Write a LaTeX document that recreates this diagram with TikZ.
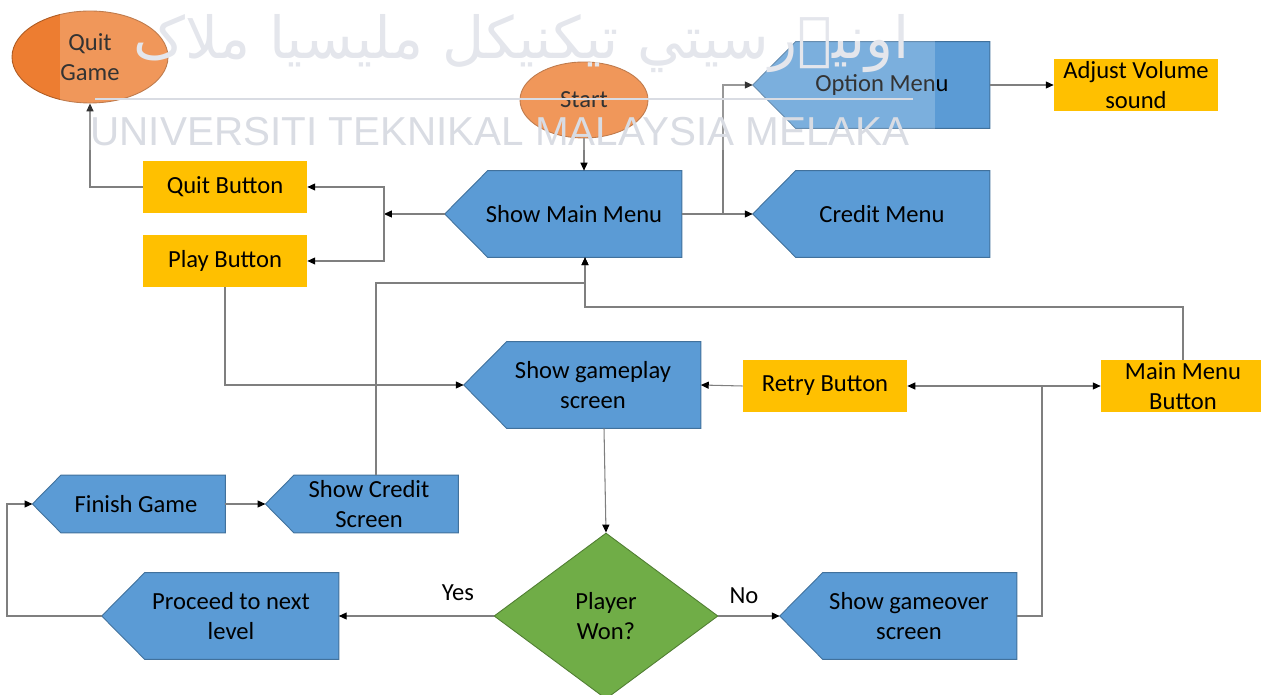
\documentclass[tikz,border=0pt]{standalone}
\usepackage{fontspec}
\setmainfont{Carlito}
\newfontfamily\wmsans{Liberation Sans}
\newfontfamily\jawi[Script=Arabic]{DejaVu Sans}
\TeXXeTstate=1
\usetikzlibrary{shapes.geometric,arrows.meta,calc,backgrounds}

\definecolor{dispblue}{HTML}{5B9BD5}
\definecolor{dispborder}{HTML}{41719C}
\definecolor{btnyellow}{HTML}{FFC000}
\definecolor{termorange}{HTML}{ED7D31}
\definecolor{termborder}{HTML}{AE5A21}
\definecolor{wongreen}{HTML}{70AD47}
\definecolor{wonborder}{HTML}{507E32}
\definecolor{linegray}{HTML}{7F7F7F}
\definecolor{wmgray}{HTML}{D9DCE3}
\definecolor{wmlight}{HTML}{E4E6EC}

\newcommand\lbl{\fontsize{14pt}{16.8pt}\selectfont}

\tikzset{
	disp/.style={inner sep=0pt, align=center, font=\lbl},
	dispbig/.style={disp, minimum width=4.3cm, minimum height=1.72cm},
	dispsmall/.style={disp, minimum width=3.56cm, minimum height=1.14cm},
	dispfill/.style={fill=dispblue, draw=dispborder, line width=0.5pt},
	btn/.style={rectangle, fill=btnyellow, minimum width=3.28cm, minimum height=1.04cm, inner sep=0pt, align=center, font=\lbl},
	term/.style={ellipse, fill=termorange, draw=termborder, line width=0.5pt, inner sep=0pt, align=center, font=\lbl},
	choice/.style={diamond, fill=wongreen, draw=wonborder, line width=0.5pt, inner sep=0pt, minimum width=4.48cm, minimum height=3.32cm, align=center, font=\lbl},
	line/.style={draw=linegray, line width=0.6pt},
	arr/.style={line, -{Triangle[length=4.5pt,width=4pt,color=black]}},
}

% pentagon pointing left, drawn behind a node
\newcommand\dispshape[2]{%
	\filldraw[dispfill] ($(#1.north west)+(#2,0)$) -- (#1.north east) -- (#1.south east)
		-- ($(#1.south west)+(#2,0)$) -- ($(#1.west)-(#2,0)$) coordinate (#1-tip) -- cycle;}

\begin{document}
\begin{tikzpicture}[x=0.02cm,y=-0.02cm]
				\useasboundingbox (0,0) rectangle (1261,695);
				
				\node[term, minimum width=3.12cm, minimum height=1.84cm] (quitgame) at (90,57) {Quit\\Game};
				\node[term, minimum width=2.56cm, minimum height=1.52cm] (start) at (584,100) {Start};
				
				\node[dispbig] (mainmenu) at (574,214) {Show Main Menu};
				\node[dispbig] (optmenu) at (882,85) {Option Menu};
				\node[dispbig] (creditmenu) at (882,214) {Credit Menu};
				\node[dispbig] (gameplay) at (593,385) {Show gameplay\\screen};
				\node[dispsmall] (finish) at (136,504) {Finish Game};
				\node[dispsmall] (creditscr) at (369,504) {Show Credit\\Screen};
				\node[dispbig] (proceed) at (231,616) {Proceed to next\\level};
				\node[dispbig] (gameover) at (909,616) {Show gameover\\screen};
				
				\begin{scope}[on background layer]
					\dispshape{mainmenu}{0.43cm}
					\dispshape{optmenu}{0.43cm}
					\dispshape{creditmenu}{0.43cm}
					\dispshape{gameplay}{0.43cm}
					\dispshape{finish}{0.285cm}
					\dispshape{creditscr}{0.285cm}
					\dispshape{proceed}{0.43cm}
					\dispshape{gameover}{0.43cm}
				\end{scope}
				
				\node[btn] (quitbtn) at (225,187) {Quit Button};
				\node[btn] (playbtn) at (225,261) {Play Button};
				\node[btn] (volume) at (1136,85) {Adjust Volume\\sound};
				\node[btn] (retry) at (825,386) {Retry Button};
				\node[btn] (mainbtn) at (1183,386) {Main Menu\\Button};
				
				\node[choice] (won) at (606,616) {Player\\Won?};
				\node[font=\lbl] (yes) at (458,593) {Yes};
				\node[font=\lbl] (no) at (744,596) {No};
				
				% connectors
				\coordinate (split) at (384,214);
				\coordinate (menufork) at (723,214);
				\coordinate (backjoin) at (585,283);
				\coordinate (backjoin2) at (585,307);
				\coordinate (leftrail) at (7,560);
				\coordinate (overfork) at (1042,386);
				
				\draw[arr] (start.south) -- (start.south |- mainmenu.north);
				\draw[arr] (mainmenu-tip) -- (split);
				\draw[arr] (split) |- (quitbtn.east);
				\draw[arr] (split) |- (playbtn.east);
				\draw[arr] (quitbtn.west) -| (quitgame.south);
				\draw[line] (mainmenu.east) -- (menufork);
				\draw[arr] (menufork) |- (optmenu-tip);
				\draw[arr] (menufork) -- (creditmenu-tip);
				\draw[arr] (optmenu.east) -- (volume.west);
				\draw[arr] (playbtn.south) |- (gameplay-tip);
				\draw[arr] ([xshift=0.14cm]creditscr.north) |- (backjoin) -- (backjoin |- mainmenu.south);
				\draw[arr] (mainbtn.north) |- (backjoin2) -- (backjoin2 |- mainmenu.south);
				\draw[arr] ([xshift=0.22cm]gameplay.south) -- (won.north);
				\draw[arr] (won.west) -- (proceed.east);
				\draw[arr] (won.east) -- (gameover-tip);
				\draw[arr] (proceed-tip) -| (leftrail) |- (finish-tip);
				\draw[arr] (finish.east) -- (creditscr-tip);
				\draw[arr] (retry.west) -- (gameplay.east);
				\draw[line] (gameover.east) -| (overfork);
				\draw[arr] (overfork) -- (retry.east);
				\draw[arr] (overfork) -- (mainbtn.west);
				
				% watermark
				\fill[white, fill opacity=0.2] (60,0) rectangle (935,150);
				\draw[wmgray, line width=1.5pt] (95,99) -- (913,99);
				\node[text=wmgray, font=\wmsans\fontsize{23pt}{26pt}\selectfont] (wmlatin) at (500,132) {UNIVERSITI TEKNIKAL MALAYSIA MELAKA};
				\node[text=wmlight, anchor=east, font=\jawi\fontsize{33pt}{38pt}\selectfont] (wmjawi) at (916,44) {\beginR اونيۏرسيتي تيکنيکل مليسيا ملاک\endR};
				
\end{tikzpicture}
\end{document}
